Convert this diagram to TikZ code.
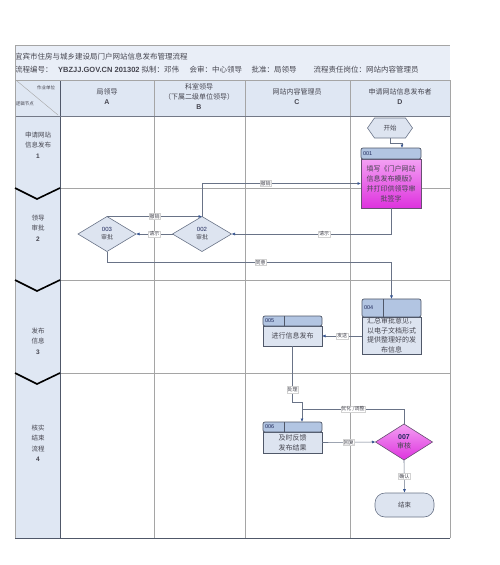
\documentclass[tikz,border=0pt]{standalone}
\usepackage{fontspec}
\setmainfont{Noto Sans CJK SC}
\newfontfamily\latinsf{Liberation Sans}
\usetikzlibrary{arrows.meta,positioning,shapes.geometric,shapes.symbols}

\definecolor{paleblue}{RGB}{223,231,243}
\definecolor{boxblue}{RGB}{221,228,240}
\definecolor{headblue}{RGB}{178,197,226}
\definecolor{gridgray}{RGB}{165,165,165}
\definecolor{linegray}{RGB}{105,115,135}
\definecolor{tipblue}{RGB}{55,85,145}
\definecolor{edgegray}{RGB}{80,88,105}
\definecolor{pinklight}{RGB}{243,160,243}
\definecolor{pinkdark}{RGB}{222,50,222}
\definecolor{purpleedge}{RGB}{105,80,115}
\definecolor{textgray}{RGB}{70,70,80}
\definecolor{idnavy}{RGB}{30,40,90}

\tikzset{
  task/.style={draw=edgegray, fill=boxblue, line width=0.7pt, outer sep=0pt, inner sep=1pt, align=center, font=\fontsize{7}{10}\selectfont, text=textgray},
  taskhead/.style={draw=edgegray, fill=headblue, line width=0.7pt, outer sep=0pt, inner xsep=2pt, inner ysep=0pt, rounded corners=2pt, align=left, font=\latinsf\fontsize{5.5}{6}\selectfont, text=idnavy},
  decide/.style={diamond, draw=linegray, fill=boxblue, line width=0.6pt, inner sep=0pt, outer sep=0pt, align=center, font=\fontsize{6}{8}\selectfont, text=textgray},
  flow/.style={draw=linegray, line width=0.6pt, -{Latex[length=3.5pt,width=3pt,color=tipblue]}},
  link/.style={draw=linegray, line width=0.6pt},
  tag/.style={fill=white, draw=gray!35, line width=0.3pt, inner sep=0.8pt, font=\fontsize{5}{5}\selectfont, text=textgray},
  lanetext/.style={align=center, font=\fontsize{6.5}{10.5}\selectfont, text=textgray},
  colhead/.style={align=center, font=\fontsize{7}{10}\selectfont, text=textgray},
}

\begin{document}
\begin{tikzpicture}[x=1pt,y=-1pt]
		%%%%% START %%%%%
		\useasboundingbox (0,0) rectangle (500,565);
		
		% title block
		\fill[paleblue!70] (15,45) rectangle (450,80);
		\node[anchor=west, inner sep=0pt, font=\fontsize{7.5}{8}\selectfont, text=textgray] (title) at (15,57) {宜宾市住房与城乡建设局门户网站信息发布管理流程};
		\node[anchor=west, inner sep=0pt, font=\fontsize{7.5}{8}\selectfont, text=textgray] (info) at (15,70) {流程编号：\hspace{5.5pt}{\latinsf\bfseries YBZJJ.GOV.CN 201302}\hspace{2pt}拟制：邓伟\hspace{10.5pt}会审：中心领导\hspace{9.5pt}批准：局领导\hspace{17pt}流程责任岗位：网站内容管理员};
		
		% header row and lane column
		\fill[paleblue] (15,80) rectangle (450,116);
		\fill[paleblue] (15,116) rectangle (60,538);
		
		\foreach \y in {188,280,373} \draw[gridgray, line width=0.8pt] (60,\y) -- (450,\y);
		\foreach \x in {154,245,350,450} \draw[gridgray, line width=1pt] (\x,80) -- (\x,538);
		\draw[edgegray, line width=0.8pt] (60,80) -- (60,538);
		\draw[gridgray] (15,45) -- (450,45);
		\draw[gridgray] (15,80) -- (450,80);
		\draw[edgegray!80, line width=0.8pt] (15,116) -- (450,116);
		\draw[gridgray] (15,45) -- (15,538);
		\draw[edgegray, line width=0.8pt] (15,538) -- (450,538);
		
		\foreach \y in {188,280,373} \draw[black, line width=1.6pt] (15,\y) -- (37,\y+11) -- (60,\y);
		
		\draw[gridgray, line width=0.4pt] (17,81) -- (58,115);
		\node[font=\fontsize{4.5}{5}\selectfont, text=textgray] (unit) at (46,88) {作业单位};
		\node[font=\fontsize{4.5}{5}\selectfont, text=textgray] (logic) at (25,104) {逻辑节点};
		
		\node[colhead] (colA) at (107,97) {局领导\\{\latinsf\bfseries A}};
		\node[colhead] (colB) at (199,97) {科室领导\\（下属二级单位领导）\\{\latinsf\bfseries B}};
		\node[colhead] (colC) at (297,97) {网站内容管理员\\{\latinsf\bfseries C}};
		\node[colhead] (colD) at (400,97) {申请网站信息发布者\\{\latinsf\bfseries D}};
		
		\node[lanetext] (lane1) at (38,145) {申请网站\\信息发布\\{\latinsf\bfseries 1}};
		\node[lanetext] (lane2) at (38,228) {领导\\审批\\{\latinsf\bfseries 2}};
		\node[lanetext] (lane3) at (38,341) {发布\\信息\\{\latinsf\bfseries 3}};
		\node[lanetext] (lane4) at (38,443) {核实\\结束\\流程\\{\latinsf\bfseries 4}};
		
		% steps
		\node[signal, signal to=east and west, signal pointer angle=110, draw=linegray, fill=boxblue, line width=0.6pt, minimum width=45pt, minimum height=20pt, inner sep=0pt, font=\fontsize{6.5}{7}\selectfont, text=textgray] (start) at (390,128) {开始};
		
		\node[task, draw=purpleedge, top color=pinklight, bottom color=pinkdark, minimum width=60pt, minimum height=49pt] (t001) at (391,183.5) {填写《门户网站\\信息发布模版》\\并打印供领导审\\批签字};
		\node[taskhead, above=0pt of t001, minimum height=11pt, text width=56pt] (h001) {001};
		
		\node[decide, minimum width=59pt, minimum height=35pt] (d002) at (202,234) {{\latinsf\color{idnavy}002}\\审批};
		\node[decide, minimum width=58pt, minimum height=35pt] (d003) at (107,234) {{\latinsf\color{idnavy}003}\\审批};
		
		\node[task, minimum width=59pt, minimum height=37pt, font=\fontsize{7}{9.5}\selectfont] (t004) at (391.5,335.5) {汇总审批意见，\\以电子文档形式\\提供整理好的发\\布信息};
		\node[taskhead, above=0pt of t004, minimum height=18pt, text width=55pt] (h004) {004};
		\draw[edgegray, line width=0.7pt] ([xshift=21pt]h004.north west) -- ([xshift=21pt]h004.south west);
		
		\node[task, minimum width=59pt, minimum height=20pt] (t005) at (292.5,336) {进行信息发布};
		\node[taskhead, above=0pt of t005, minimum height=10pt, text width=55pt] (h005) {005};
		\draw[edgegray, line width=0.7pt] ([xshift=21pt]h005.north west) -- ([xshift=21pt]h005.south west);
		
		\node[task, minimum width=59pt, minimum height=21pt] (t006) at (292.5,442.5) {及时反馈\\发布结果};
		\node[taskhead, above=0pt of t006, minimum height=10pt, text width=55pt] (h006) {006};
		\draw[edgegray, line width=0.7pt] ([xshift=21pt]h006.north west) -- ([xshift=21pt]h006.south west);
		
		\node[decide, draw=purpleedge, top color=pinklight, bottom color=pinkdark, minimum width=57pt, minimum height=36pt, font=\fontsize{7}{9}\selectfont] (d007) at (404,442) {{\latinsf\bfseries\color{idnavy}007}\\审核};
		
		\node[draw=linegray, fill=boxblue, line width=0.6pt, rounded corners=10pt, minimum width=59pt, minimum height=24pt, font=\fontsize{6.5}{7}\selectfont, text=textgray] (finish) at (404.5,505) {结束};
		
		% connectors
		\coordinate (turn1) at (302,402);
		\coordinate (turn2) at (302,409);
		
		\draw[flow] (start.south) -- ++(0,5) -| ([xshift=11pt]h001.north);
		\draw[flow] (d003.north) -- node[tag]{撤销} (d002.north);
		\draw[flow] (d002.north) |- node[tag, pos=0.7]{撤销} (t001.west);
		\draw[flow] (t001.south) |- node[tag, pos=0.71]{请示} (d002.east);
		\draw[flow] (d002.west) -- node[tag]{请示} (d003.east);
		\draw[flow] (d003.south) -- ++(0,11) -| node[tag, pos=0.27]{同意} (h004.north);
		\draw[flow] (t004.west |- t005.east) -- node[tag]{发送} (t005.east);
		\draw[link] (t005.south) |- node[tag, pos=0.39]{处理} (turn1);
		\draw[flow] (turn1) -- (turn1 |- h006.north);
		\draw[link] (d007.north) |- node[tag, pos=0.75]{优化 /调整} (turn2);
		\draw[flow] (t006.east) -- node[tag]{回复} (d007.west);
		\draw[flow] (d007.south) -- node[tag]{确认} (finish.north);
		
		%%%%% END %%%%%
\end{tikzpicture}
\end{document}
